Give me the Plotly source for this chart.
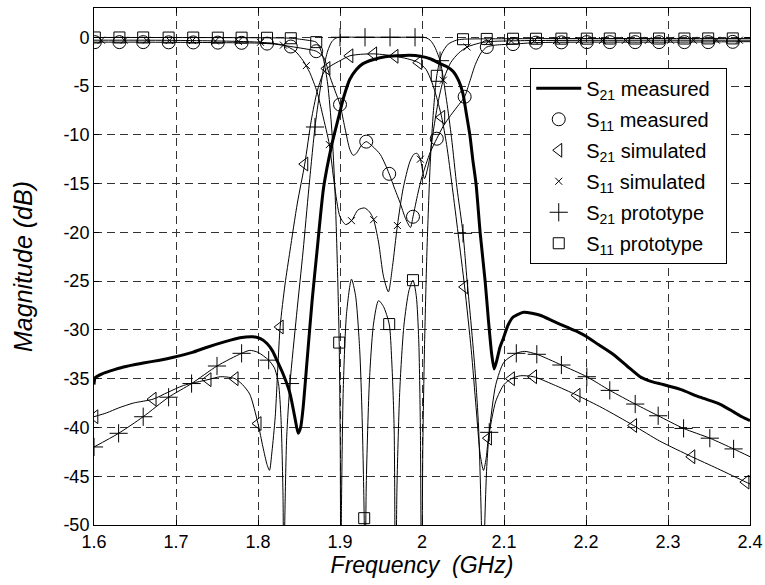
import plotly.graph_objects as go

# ---------------- data (frequency in GHz, magnitude in dB) ----------------
s21_meas_f = [1.600, 1.6015, 1.61, 1.62, 1.636, 1.66, 1.68, 1.697, 1.72, 1.737, 1.76, 1.778, 1.794, 1.803,
              1.811, 1.818, 1.823, 1.831, 1.839, 1.845, 1.849, 1.852, 1.855, 1.86, 1.866, 1.872, 1.88, 1.89,
              1.898, 1.905, 1.912, 1.92, 1.928, 1.94, 1.955, 1.97, 1.985, 1.998, 2.01, 2.022, 2.03, 2.038,
              2.045, 2.05, 2.054, 2.0585, 2.062, 2.066, 2.071, 2.077, 2.081, 2.085, 2.088, 2.091, 2.095,
              2.099, 2.105, 2.111, 2.124, 2.144, 2.16, 2.176, 2.19, 2.201, 2.215, 2.233, 2.25, 2.266, 2.28,
              2.294, 2.315, 2.339, 2.363, 2.38, 2.39, 2.4]
s21_meas_db = [-35.6, -34.9, -34.5, -34.2, -33.8, -33.4, -33.1, -32.8, -32.3, -31.8, -31.2, -30.8, -30.7, -30.9,
               -31.4, -32.2, -33.1, -34.6, -36.5, -39.0, -40.6, -40.0, -38.0, -33.0, -27.0, -21.9, -15.4, -11.0,
               -8.3, -6.0, -4.3, -3.3, -2.7, -2.3, -2.0, -1.9, -1.85, -1.95, -2.2, -2.7, -3.0, -3.5,
               -4.5, -5.8, -7.8, -10.1, -12.6, -15.1, -20.1, -25.0, -29.0, -32.5, -34.0, -33.2, -31.8,
               -30.9, -29.5, -28.7, -28.2, -28.5, -29.1, -29.7, -30.2, -30.7, -31.5, -32.5, -33.7, -34.8, -35.3,
               -35.6, -36.1, -36.9, -37.6, -38.4, -38.9, -39.3]

s11_meas_f = [1.6, 1.65, 1.7, 1.75, 1.8, 1.82, 1.84, 1.855, 1.871, 1.88, 1.888, 1.894, 1.9, 1.906, 1.912, 1.916,
              1.92, 1.926, 1.932, 1.94, 1.949, 1.955, 1.96, 1.967, 1.973, 1.98, 1.986, 1.989, 1.995, 2.0, 2.01,
              2.018, 2.026, 2.035, 2.045, 2.052, 2.058, 2.065, 2.072, 2.079, 2.09, 2.111, 2.139, 2.2, 2.3, 2.4]
s11_meas_db = [-0.5, -0.5, -0.52, -0.55, -0.6, -0.7, -0.95, -1.15, -1.43, -2.05, -4.1, -5.5, -6.9, -9.3, -11.5,
               -12.1, -11.9, -11.1, -10.7, -11.2, -12.0, -13.0, -14.0, -15.6, -16.9, -18.6, -19.5, -18.4, -16.0,
               -14.3, -11.8, -10.4, -9.1, -8.0, -6.9, -6.1, -4.6, -2.8, -1.6, -1.0, -0.8, -0.7, -0.55, -0.5,
               -0.5, -0.45]
s11_meas_mk_f = [1.601, 1.631, 1.660, 1.691, 1.721, 1.751, 1.780, 1.811, 1.840, 1.871, 1.900, 1.932, 1.960,
                 1.989, 2.018, 2.052, 2.079, 2.111, 2.139, 2.170, 2.201, 2.229, 2.260, 2.289, 2.320, 2.349, 2.379]
s11_meas_mk_db = [-0.5, -0.5, -0.5, -0.52, -0.53, -0.55, -0.57, -0.65, -0.95, -1.43, -6.9, -10.7, -14.0,
                  -18.4, -10.4, -6.1, -1.0, -0.7, -0.55, -0.52, -0.5, -0.5, -0.5, -0.5, -0.5, -0.5, -0.47]

s21_sim_f = [1.6, 1.6155, 1.63, 1.648, 1.672, 1.69, 1.709, 1.739, 1.754, 1.764, 1.772, 1.781, 1.79, 1.8, 1.806,
             1.811, 1.814, 1.817, 1.821, 1.827, 1.833, 1.839, 1.848, 1.857, 1.865, 1.872, 1.879, 1.884, 1.9,
             1.912, 1.925, 1.941, 1.955, 1.967, 1.982, 1.996, 2.005, 2.012, 2.018, 2.024, 2.03, 2.037, 2.044,
             2.052, 2.06, 2.066, 2.071, 2.075, 2.078, 2.081, 2.09, 2.1, 2.109, 2.12, 2.136, 2.16, 2.189, 2.22,
             2.258, 2.29, 2.329, 2.36, 2.395, 2.4]
s21_sim_db = [-38.9, -38.5, -38.0, -37.5, -37.1, -36.4, -35.7, -35.1, -34.8, -34.85, -35.0, -35.6, -36.6, -39.6,
              -42.0, -43.8, -44.4, -42.5, -38.9, -29.7, -25.3, -21.9, -17.0, -13.0, -8.5, -5.6, -3.8, -3.2, -2.4,
              -1.9, -1.75, -1.7, -1.8, -1.95, -2.2, -2.6, -3.3, -4.6, -6.2, -8.2, -11.0, -15.4, -20.1,
              -25.6, -32.0, -38.0, -42.8, -44.4, -43.3, -41.1, -37.3, -35.6, -35.0, -34.7, -34.8, -35.6, -36.7,
              -38.0, -39.8, -41.4, -43.0, -44.2, -45.6, -45.8]
s21_sim_mk_f = [1.601, 1.672, 1.739, 1.772, 1.800, 1.827, 1.857, 1.884, 1.912, 1.941, 1.967, 1.996, 2.024,
                2.052, 2.081, 2.109, 2.136, 2.189, 2.258, 2.329, 2.395]
s21_sim_mk_db = [-38.9, -37.1, -35.1, -35.0, -39.6, -29.7, -13.0, -3.2, -1.9, -1.7, -1.95, -2.6, -8.2,
                 -25.6, -41.1, -35.0, -34.8, -36.7, -39.8, -43.0, -45.6]

s11_sim_f = [1.6, 1.65, 1.7, 1.75, 1.8, 1.831, 1.845, 1.855, 1.863, 1.872, 1.879, 1.887, 1.893, 1.9, 1.907,
             1.914, 1.922, 1.93, 1.936, 1.941, 1.947, 1.953, 1.959, 1.964, 1.97, 1.977, 1.985, 1.99, 1.994,
             1.998, 2.003, 2.008, 2.014, 2.02, 2.026, 2.035, 2.045, 2.055, 2.07, 2.081, 2.12, 2.4]
s11_sim_db = [-0.3, -0.3, -0.32, -0.38, -0.5, -0.8, -1.4, -2.4, -3.6, -5.6, -8.0, -11.0, -15.0, -18.4, -19.2,
              -18.8, -17.7, -17.5, -17.9, -18.7, -21.0, -24.5, -26.1, -23.5, -19.3, -15.5, -12.8, -12.0, -11.9,
              -12.5, -14.5, -13.0, -9.5, -6.5, -4.4, -2.6, -1.6, -1.0, -0.6, -0.45, -0.35, -0.3]
s11_sim_mk_f = [1.609, 1.637, 1.664, 1.692, 1.720, 1.748, 1.776, 1.803, 1.831, 1.859, 1.887, 1.914, 1.941,
                1.970, 1.998, 2.026, 2.055, 2.081, 2.109, 2.137, 2.164, 2.192, 2.220, 2.248, 2.276, 2.303,
                2.331, 2.359, 2.387]
s11_sim_mk_db = [-0.3, -0.3, -0.3, -0.32, -0.34, -0.38, -0.42, -0.52, -0.8, -2.9, -11.0, -18.8, -18.7,
                 -19.3, -12.5, -4.4, -1.0, -0.45, -0.38, -0.35, -0.34, -0.33, -0.33, -0.32, -0.32, -0.31,
                 -0.31, -0.3, -0.3]

s21_proto_f = [1.6, 1.630, 1.660, 1.691, 1.719, 1.750, 1.780, 1.790, 1.80, 1.813, 1.82, 1.825, 1.828, 1.8305,
               1.8315, 1.8326, 1.835, 1.839, 1.847, 1.855, 1.862, 1.8695, 1.875, 1.88, 1.885, 1.89, 1.895, 1.9,
               1.93, 1.96, 1.99, 2.005, 2.01, 2.015, 2.022, 2.03, 2.036, 2.0426, 2.05, 2.055, 2.06, 2.065,
               2.069, 2.0725, 2.0745, 2.0765, 2.079, 2.082, 2.09, 2.1, 2.115, 2.125, 2.140, 2.170, 2.201,
               2.229, 2.260, 2.288, 2.319, 2.351, 2.38, 2.4]
s21_proto_db = [-42.0, -40.6, -38.9, -36.9, -35.5, -33.7, -32.4, -32.1, -32.3, -33.1, -33.9, -35.5, -39.0, -47.0,
                -60.0, -50.0, -41.0, -35.5, -28.5, -21.9, -15.5, -9.2, -5.8, -3.2, -1.4, -0.45, -0.08, 0.0,
                0.0, 0.0, 0.0, -0.05, -0.3, -0.9, -2.4, -6.5, -10.3, -15.4, -20.1, -25.0, -29.5, -34.5,
                -40.0, -50.0, -60.0, -50.0, -44.0, -40.5, -35.6, -33.3, -32.4, -32.2, -32.5, -33.6, -34.8,
                -36.2, -37.6, -38.8, -40.1, -41.1, -42.2, -43.0]
s21_proto_mk_f = [1.6, 1.630, 1.660, 1.691, 1.719, 1.750, 1.780, 1.813, 1.839, 1.8695, 1.900, 1.9305, 1.961,
                  1.9915, 2.022, 2.050, 2.082, 2.115, 2.140, 2.170, 2.201, 2.229, 2.260, 2.288, 2.319, 2.351,
                  2.38]
s21_proto_mk_db = [-42.0, -40.6, -38.9, -36.9, -35.5, -33.7, -32.4, -33.1, -35.5, -9.2, 0.0, 0.0, 0.0,
                   0.0, -2.4, -20.1, -40.5, -32.4, -32.5, -33.6, -34.8, -36.2, -37.6, -38.8, -40.1, -41.1,
                   -42.2]

s11_proto_f = [1.6, 1.8, 1.84, 1.86, 1.871, 1.876, 1.88, 1.885, 1.89, 1.894, 1.897, 1.899, 1.9003, 1.901,
               1.9018, 1.904, 1.908, 1.914, 1.919, 1.924, 1.927, 1.9295, 1.9305, 1.932, 1.936, 1.941, 1.947,
               1.953, 1.960, 1.963, 1.966, 1.9677, 1.9695, 1.973, 1.978, 1.984, 1.989, 1.993, 1.996, 1.998,
               1.9995, 2.001, 2.003, 2.006, 2.01, 2.014, 2.018, 2.024, 2.032, 2.042, 2.05, 2.1, 2.4]
s11_proto_db = [-0.02, -0.05, -0.1, -0.3, -0.5, -1.2, -2.3, -4.8, -9.5, -16.0, -24.0, -31.3, -42.0, -60.0,
                -48.0, -36.0, -28.3, -24.8, -26.5, -32.0, -39.0, -49.3, -60.0, -46.0, -35.0, -29.3, -27.0,
                -27.6, -29.4, -33.0, -40.0, -60.0, -46.0, -36.0, -29.5, -26.0, -24.9, -26.5, -31.0, -40.0,
                -60.0, -42.0, -32.0, -22.0, -13.0, -7.5, -3.95, -1.7, -0.7, -0.3, -0.2, -0.15, -0.12]
s11_proto_mk_f = [1.601, 1.631, 1.660, 1.691, 1.721, 1.751, 1.780, 1.811, 1.840, 1.871, 1.899, 1.9295, 1.960,
                  1.989, 2.018, 2.050, 2.079, 2.111, 2.139, 2.170, 2.201, 2.229, 2.260, 2.289, 2.320, 2.349,
                  2.379]
s11_proto_mk_db = [-0.02, -0.02, -0.02, -0.03, -0.03, -0.04, -0.04, -0.05, -0.1, -0.5, -31.3, -49.3, -29.4,
                   -24.9, -3.95, -0.2, -0.17, -0.15, -0.15, -0.14, -0.14, -0.13, -0.13, -0.13, -0.13, -0.12,
                   -0.12]

legend_names = ["S<sub>21</sub> measured", "S<sub>11</sub> measured", "S<sub>21</sub> simulated",
                "S<sub>11</sub> simulated", "S<sub>21</sub> prototype", "S<sub>11</sub> prototype"]
y_ticks = [-50, -45, -40, -35, -30, -25, -20, -15, -10, -5, 0]
y_tick_text = ["-50", "-45", "-40", "-35", "-30", "-25", "-20", "-15", "-10", "-5", "0"]
x_ticks = [1.6, 1.7, 1.8, 1.9, 2.0, 2.1, 2.2, 2.3, 2.4]
x_tick_text = ["1.6", "1.7", "1.8", "1.9", "2", "2.1", "2.2", "2.3", "2.4"]

FONT = "Liberation Sans, Arial, sans-serif"
fig = go.Figure()

thin = dict(color="black", width=1, shape="spline", smoothing=0.7)

# thin curves (no legend)
for f, d in [(s11_meas_f, s11_meas_db), (s21_sim_f, s21_sim_db), (s11_sim_f, s11_sim_db),
             (s21_proto_f, s21_proto_db), (s11_proto_f, s11_proto_db)]:
    fig.add_trace(go.Scatter(x=f, y=d, mode="lines", line=thin, showlegend=False, hoverinfo="skip"))

PAD = "\u00a0\u00a0"
# thick measured S21
fig.add_trace(go.Scatter(x=s21_meas_f, y=s21_meas_db, mode="lines", name=legend_names[0] + PAD,
                         legendgroup="g0", legendrank=1,
                         line=dict(color="black", width=3, shape="spline", smoothing=0.6)))

marker_sets = [
    (s11_meas_mk_f, s11_meas_mk_db, "circle-open", 13),
    (s21_sim_mk_f, s21_sim_mk_db, "triangle-left-open", 12),
    (s11_sim_mk_f, s11_sim_mk_db, "x-thin-open", 7),
    (s21_proto_mk_f, s21_proto_mk_db, "cross-thin-open", 13),
    (s11_proto_mk_f, s11_proto_mk_db, "square-open", 11),
]
for i, (f, d, sym, sz) in enumerate(marker_sets):
    fig.add_trace(go.Scatter(x=f, y=d, mode="markers", name=legend_names[i + 1] + PAD,
                             legendgroup="g%d" % (i + 1), legendrank=i + 2,
                             marker=dict(symbol=sym, size=sz, color="black",
                                         line=dict(color="black", width=1))))

axis_common = dict(showline=True, linecolor="black", linewidth=1, mirror="ticks",
                   ticks="inside", ticklen=5, tickcolor="black", tickwidth=1,
                   showgrid=True, gridcolor="#333333", gridwidth=1, griddash="8px,5px",
                   zeroline=False, tickfont=dict(family=FONT, size=18, color="black"))

fig.update_xaxes(range=[1.6, 2.4], tickvals=x_ticks, ticktext=x_tick_text,
                 title=dict(text="<i>Frequency\u00a0 (GHz)</i>", font=dict(family=FONT, size=23, color="black"),
                            standoff=4), **axis_common)
fig.update_yaxes(range=[-50, 3], tickvals=y_ticks, ticktext=y_tick_text,
                 title=dict(text="<i>Magnitude (dB)</i>", font=dict(family=FONT, size=25, color="black"),
                            standoff=23), **axis_common)

fig.update_layout(
    width=765, height=585,
    margin=dict(l=94, r=15, t=8, b=60, autoexpand=False),
    paper_bgcolor="white", plot_bgcolor="white",
    font=dict(family=FONT, color="black"),
    legend=dict(x=0.665, y=0.8844, xanchor="left", yanchor="top",
                bgcolor="white", bordercolor="black", borderwidth=1,
                font=dict(family=FONT, size=20, color="black"),
                traceorder="grouped", tracegroupgap=2, itemwidth=45),
)

fig.write_html("out.html")
